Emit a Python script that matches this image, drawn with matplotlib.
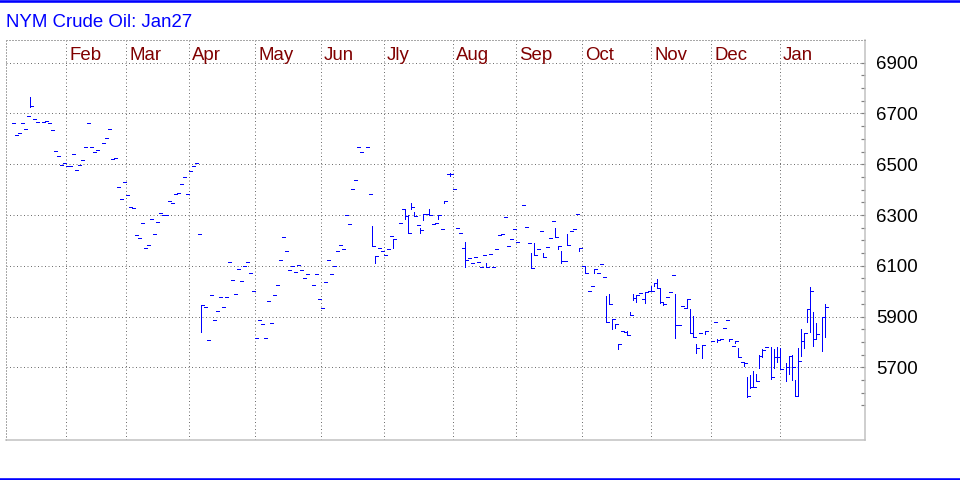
import matplotlib
matplotlib.use("Agg")
import matplotlib.pyplot as plt
from matplotlib.lines import Line2D
import matplotlib.transforms as mtrans
import numpy as np
import pandas as pd

# ---- data: weekday index since 2025-01-01, high, low, close ----
day = [5, 6, 7, 8, 9, 10, 11, 12, 13, 15, 16, 17, 18, 19, 20, 21, 22, 23, 24, 25,
       26, 27, 28, 29, 30, 31, 32, 33, 35, 36, 37, 38, 39, 40, 41, 42, 43, 44, 45, 46,
       47, 48, 49, 50, 51, 52, 53, 54, 55, 56, 57, 58, 59, 60, 61, 62, 63, 64, 65, 66,
       67, 68, 69, 70, 71, 72, 73, 74, 75, 76, 77, 78, 79, 80, 81, 82, 83, 84, 85, 86,
       87, 88, 89, 90, 91, 92, 93, 94, 95, 96, 97, 98, 99, 100, 101, 102, 103, 105, 106, 107,
       108, 109, 110, 111, 112, 113, 114, 115, 116, 117, 118, 119, 120, 121, 123, 124, 125, 126, 127, 128,
       129, 130, 131, 132, 134, 135, 136, 137, 138, 139, 140, 141, 142, 143, 144, 145, 146, 147, 148, 149,
       150, 151, 152, 153, 154, 155, 156, 157, 158, 159, 160, 161, 162, 163, 164, 165, 166, 167, 168, 169,
       170, 171, 172, 173, 175, 176, 177, 178, 179, 180, 181, 182, 183, 184, 185, 186, 187, 188, 189, 190,
       191, 192, 193, 194, 195, 196, 197, 198, 199, 200, 201, 202, 203, 204, 205, 206, 207, 208, 209, 210,
       211, 212, 213, 214, 215, 216, 217, 218, 219, 220, 221, 222, 223, 224, 225, 226, 227, 228, 229, 230,
       231, 232, 233, 234, 235, 236, 238, 239, 240, 241, 242, 243, 244, 245, 246, 247, 248, 249, 250, 251,
       252, 253, 254, 255, 256, 258, 259, 260, 261, 263, 264, 265, 266, 267, 268, 269, 270, 271, 272, 273,
       275, 276]

close = [6661, 6615, 6622, 6661, 6638, 6690, 6729, 6677, 6665, 6665, 6670, 6661, 6634, 6551, 6531, 6496, 6504, 6492, 6492, 6539,
         6476, 6496, 6515, 6567, 6661, 6567, 6547, 6555, 6582, 6602, 6638, 6519, 6523, 6409, 6362, 6429, 6378, 6330, 6326, 6220,
         6208, 6267, 6169, 6181, 6283, 6224, 6271, 6307, 6299, 6299, 6354, 6346, 6381, 6385, 6421, 6448, 6381, 6472, 6492, 6504,
         6224, 5944, 5937, 5807, 5984, 5885, 5921, 5976, 5937, 5976, 6114, 6043, 5988, 6086, 6039, 6098, 6114, 6070, 6000, 5814,
         5885, 5870, 5814, 5960, 5874, 5984, 6023, 6122, 6212, 6157, 6082, 6098, 6074, 6102, 6082, 6051, 6066, 6023, 6066, 5968,
         5933, 6035, 6122, 6066, 6098, 6157, 6181, 6165, 6299, 6263, 6401, 6437, 6567, 6547, 6567, 6381, 6177, 6137, 6169, 6157,
         6141, 6165, 6216, 6204, 6267, 6322, 6296, 6228, 6330, 6296, 6259, 6240, 6303, 6303, 6299, 6264, 6270, 6299, 6244, 6354,
         6460, 6460, 6401, 6247, 6228, 6169, 6123, 6129, 6110, 6133, 6114, 6094, 6141, 6097, 6148, 6094, 6165, 6220, 6224, 6291,
         6177, 6207, 6244, 6192, 6338, 6251, 6188, 6090, 6141, 6165, 6236, 6136, 6173, 6208, 6275, 6212, 6177, 6117, 6117, 6180,
         6236, 6244, 6303, 6169, 6098, 6070, 5999, 6019, 6086, 6070, 6106, 6055, 5877, 5948, 5889, 5869, 5792, 5842, 5838, 5826,
         5905, 5975, 5984, 5992, 5969, 5998, 6002, 6002, 6031, 6011, 5956, 5948, 5977, 5995, 6064, 5865, 5865, 5940, 5932, 5970,
         5837, 5821, 5775, 5834, 5788, 5842, 5804, 5877, 5806, 5813, 5854, 5888, 5813, 5783, 5804, 5742, 5720, 5716, 5586, 5621,
         5621, 5645, 5746, 5768, 5779, 5661, 5742, 5742, 5694, 5700, 5746, 5700, 5587, 5725, 5804, 5837, 5930, 6001, 5810, 5831,
         5897, 5936]

# bars with a visible range: day -> (high, low); all others are single-price days
ranges = {
    11: (6765, 6727), 68: (5944, 5840), 125: (6256, 6177), 126: (6137, 6110), 132: (6204, 6169),
    136: (6322, 6283), 137: (6299, 6228), 138: (6346, 6322), 139: (6312, 6296), 141: (6248, 6228),
    142: (6303, 6279), 144: (6322, 6299), 147: (6299, 6283), 149: (6354, 6346), 151: (6467, 6453),
    156: (6194, 6096), 163: (6110, 6094), 178: (6149, 6090), 179: (6188, 6141), 182: (6149, 6136),
    186: (6248, 6212), 187: (6177, 6167), 188: (6160, 6110), 190: (6225, 6180), 194: (6169, 6160),
    196: (6098, 6070), 199: (6086, 6070), 203: (5980, 5877), 204: (5989, 5948), 205: (5889, 5850),
    206: (5869, 5854), 207: (5792, 5771), 210: (5842, 5826), 211: (5917, 5905), 212: (5987, 5965),
    213: (5986, 5959), 216: (5998, 5952), 218: (6020, 6002), 219: (6031, 6020), 220: (6047, 6011),
    221: (6014, 5952), 222: (5952, 5944), 226: (5990, 5817), 230: (5970, 5932), 231: (5928, 5837),
    232: (5902, 5818), 233: (5792, 5755), 235: (5788, 5735), 236: (5842, 5831), 240: (5810, 5800),
    244: (5813, 5804), 246: (5804, 5795), 247: (5776, 5739), 249: (5716, 5705), 250: (5661, 5582),
    251: (5670, 5617), 252: (5686, 5621), 253: (5672, 5645), 254: (5749, 5696), 255: (5771, 5742),
    258: (5781, 5654), 259: (5772, 5696), 260: (5779, 5722), 261: (5775, 5694), 263: (5716, 5648),
    264: (5746, 5674), 265: (5749, 5650), 266: (5650, 5587), 267: (5775, 5587), 268: (5850, 5746),
    269: (5837, 5777), 270: (5930, 5880), 271: (6018, 5840), 272: (5917, 5785), 273: (5873, 5810),
    275: (5900, 5766), 276: (5949, 5821),
}

month_labels = ['Feb', 'Mar', 'Apr', 'May', 'Jun', 'Jly', 'Aug', 'Sep', 'Oct', 'Nov', 'Dec', 'Jan']
y_ticks = [5700, 5900, 6100, 6300, 6500, 6700, 6900]
title = 'NYM Crude Oil: Jan27'

# ---- derived ----
high = [ranges.get(d, (c, c))[0] for d, c in zip(day, close)]
low = [ranges.get(d, (c, c))[1] for d, c in zip(day, close)]

bdays = pd.bdate_range('2025-01-01', '2026-01-31')
month_key = bdays.year * 12 + bdays.month
month_starts = [i for i in range(1, len(bdays)) if month_key[i] != month_key[i - 1]]

plt.rcParams['font.family'] = ['Liberation Sans', 'DejaVu Sans']
fig = plt.figure(figsize=(9.6, 4.8), dpi=100)
ax = fig.add_axes([6 / 960, 40 / 480, 859 / 960, 400 / 480])

px = 72 / 100  # one pixel in points
BLUE = '#0000FF'

ax.set_xlim(2.9, 289.23)
ax.set_ylim(5413.8, 6989.4)

# grid
dot = (0, (1, 2.5))
for v in y_ticks:
    ax.axhline(v, color='#707070', lw=px, ls=dot, zorder=1)
for m in month_starts:
    ax.axvline(m, color='#707070', lw=px, ls=dot, zorder=1)

# bars
ax.vlines(day, low, high, colors=BLUE, lw=px, antialiased=False, zorder=3)
d = np.array(day)
ax.hlines(close, d - 0.15, d + 0.85, colors=BLUE, lw=px, antialiased=False, zorder=3)

# month labels
trans = mtrans.blended_transform_factory(ax.transData, ax.transAxes)
for m, lab in zip(month_starts, month_labels):
    ax.text(m + 0.9, 0.95, lab, transform=trans, color='#800000', fontsize=13.4,
            va='baseline', ha='left')

# axes styling
for s in ['top', 'left']:
    ax.spines[s].set_color('#a8a8a8')
    ax.spines[s].set_linestyle((0, (1, 2)))
    ax.spines[s].set_linewidth(px)
for s in ['right', 'bottom']:
    ax.spines[s].set_color('#c0c0c0')
    ax.spines[s].set_linewidth(1.5 * px)

ax.yaxis.tick_right()
ax.set_yticks(y_ticks)
ax.set_yticklabels([str(v) for v in y_ticks], fontsize=13.4, color='black')
ax.set_yticks(np.arange(5550, 6900, 50), minor=True)
ax.tick_params(axis='y', which='both', direction='in', length=3, width=1.2 * px,
               color='#808080', pad=8)
ax.set_xticks([])

# title and frame lines
fig.text(6 / 960, 1 - 27 / 480, title, color=BLUE, fontsize=13.4, va='baseline', ha='left')
fig.add_artist(Line2D([0, 1], [1 - 1.2 / 480] * 2, color=BLUE, lw=2.6 * px, transform=fig.transFigure))
fig.add_artist(Line2D([0, 1], [1.2 / 480] * 2, color=BLUE, lw=2.6 * px, transform=fig.transFigure))

fig.savefig('out.png', dpi=100)
